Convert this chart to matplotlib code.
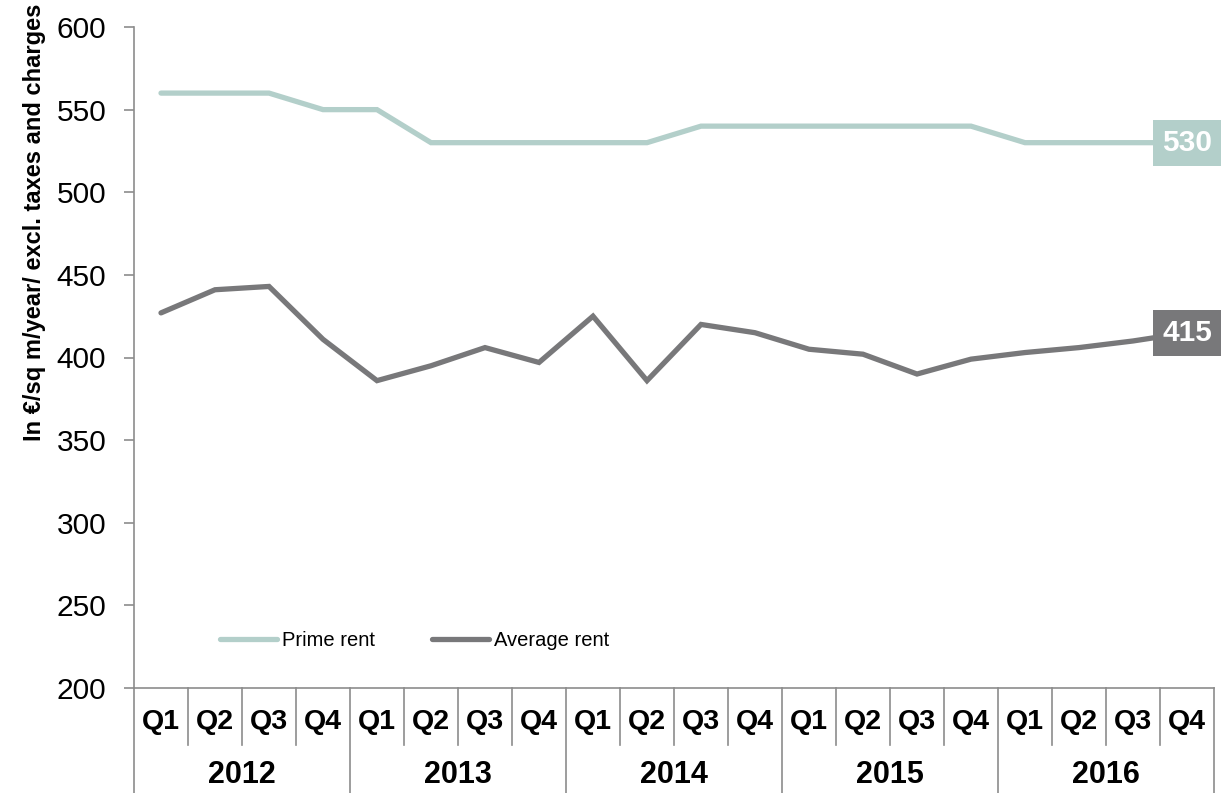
import matplotlib.pyplot as plt
import matplotlib.transforms as mtransforms

plt.rcParams['font.family'] = ['Liberation Sans', 'DejaVu Sans']

# quarterly rents, 2012 Q1 -> 2016 Q4
years = ['2012', '2013', '2014', '2015', '2016']
quarters = ['Q1', 'Q2', 'Q3', 'Q4']
prime_rent = [560, 560, 560, 550, 550, 530, 530, 530, 530, 530,
              540, 540, 540, 540, 540, 540, 530, 530, 530, 530]
average_rent = [427, 441, 443, 411, 386, 395, 406, 397, 425, 386,
                420, 415, 405, 402, 390, 399, 403, 406, 410, 415]

prime_col = '#b3cfca'
avg_col = '#78787a'
axis_col = '#8c8c8c'

fig = plt.figure(figsize=(12.23, 7.93), dpi=100)
ax = fig.add_axes([134 / 1223, 105 / 793, 1080 / 1223, 661 / 793])

x = list(range(len(prime_rent)))
ax.plot(x, prime_rent, color=prime_col, lw=3.8, solid_capstyle='round',
        solid_joinstyle='miter', label='Prime rent')
ax.plot(x, average_rent, color=avg_col, lw=3.8, solid_capstyle='round',
        solid_joinstyle='miter', label='Average rent')

# value boxes on the last quarter
ax.text(x[-1], prime_rent[-1], str(prime_rent[-1]), color='white', fontsize=21.5,
        fontweight='bold', ha='center', va='center', clip_on=False,
        bbox=dict(boxstyle='square,pad=0.3', fc=prime_col, ec='none'))
ax.text(x[-1], average_rent[-1], str(average_rent[-1]), color='white', fontsize=21.5,
        fontweight='bold', ha='center', va='center', clip_on=False,
        bbox=dict(boxstyle='square,pad=0.3', fc=avg_col, ec='none'))

ax.set_xlim(-0.5, len(x) - 0.5)
ax.set_ylim(200, 600)
ax.set_yticks(range(200, 601, 50))
ax.tick_params(axis='y', labelsize=21.5, length=7, width=1.2, color=axis_col, pad=13)
ax.set_xticks([])

for s in ['top', 'right']:
    ax.spines[s].set_visible(False)
for s in ['left', 'bottom']:
    ax.spines[s].set_color(axis_col)
    ax.spines[s].set_linewidth(1.2)

# two-level category axis: quarters above, years below
trans = mtransforms.blended_transform_factory(ax.transData, ax.transAxes)
for i in range(len(x) + 1):
    b = i - 0.5
    bottom = -0.16 if i % 4 == 0 else -0.086
    ax.plot([b, b], [0, bottom], color=axis_col, lw=1.2, transform=trans, clip_on=False)
for i in x:
    ax.text(i, -0.052, quarters[i % 4], transform=trans, ha='center', va='center',
            fontsize=20.5, fontweight='bold')
for j, yr in enumerate(years):
    ax.text(j * 4 + 1.5, -0.131, yr, transform=trans, ha='center', va='center',
            fontsize=22, fontweight='bold')

ax.legend(loc='center left', bbox_to_anchor=(86 / 1080, 47 / 661), ncol=2, frameon=False,
          fontsize=14.5, handlelength=2.85, handletextpad=0.25, columnspacing=2.8,
          borderpad=0, borderaxespad=0)

fig.text(0.028, 0.996, 'In €/sq m/year/ excl. taxes and charges', rotation=90,
         ha='center', va='top', fontsize=17, fontweight='bold')

fig.savefig('out.png', dpi=100)
